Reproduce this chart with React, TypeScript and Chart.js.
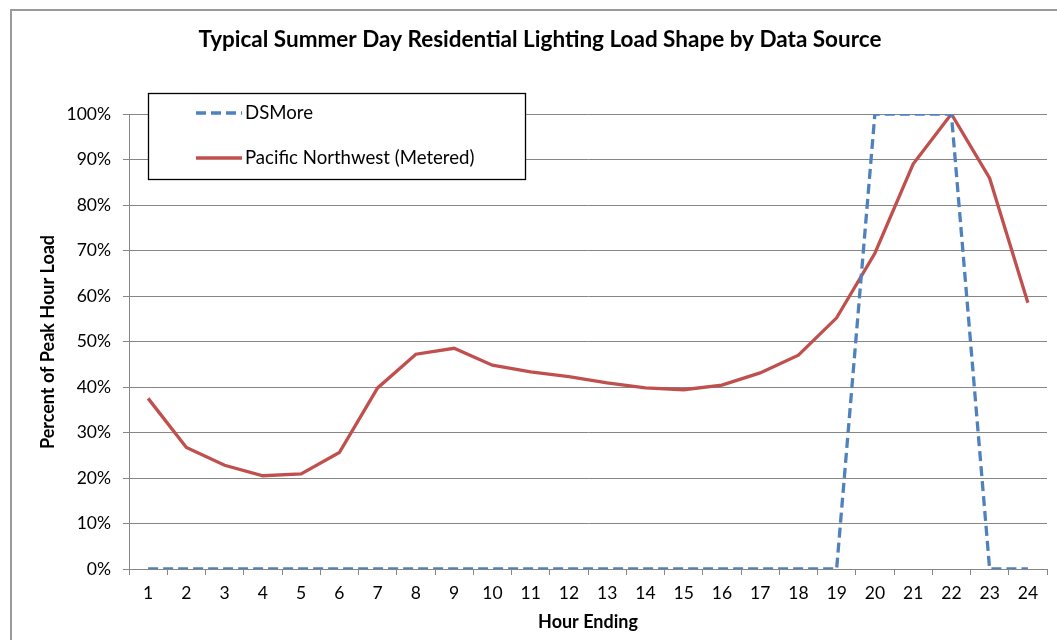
import React, { useEffect, useRef } from "react";
import { Chart, registerables } from "chart.js";

Chart.register(...registerables);

const TITLE = "Typical Summer Day Residential Lighting Load Shape by Data Source";
const X_TITLE = "Hour Ending";
const Y_TITLE = "Percent of Peak Hour Load";
const HOURS = ["1","2","3","4","5","6","7","8","9","10","11","12","13","14","15","16","17","18","19","20","21","22","23","24"];
const DSMORE = [0,0,0,0,0,0,0,0,0,0,0,0,0,0,0,0,0,0,0,100,100,100,0,0];
const PNW = [37.5,26.7,22.8,20.5,20.9,25.6,39.8,47.2,48.5,44.8,43.3,42.3,40.9,39.8,39.4,40.4,43.1,47.0,55.2,69.4,89.0,100,85.9,58.5];

const FONT = "Lato, 'Open Sans', sans-serif";

const decor = {
  id: "decor",
  beforeDraw(chart: any) {
    const ctx = chart.ctx;
    ctx.save();
    ctx.fillStyle = "#ffffff";
    ctx.fillRect(0, 0, chart.width, chart.height);
    ctx.fillStyle = "#9a9a9a";
    ctx.fillRect(10, 9, chart.width - 10, 2);
    ctx.fillRect(10, 9, 2, chart.height - 9);
    ctx.restore();
  },
  afterDraw(chart: any) {
    const ctx = chart.ctx;
    const area = chart.chartArea;
    ctx.save();
    ctx.fillStyle = "#000";
    ctx.textAlign = "center";
    ctx.textBaseline = "middle";
    ctx.font = `bold 22.5px ${FONT}`;
    ctx.fillText(TITLE, 540, 40);
    ctx.font = `bold 18px ${FONT}`;
    ctx.fillText(X_TITLE, (area.left + area.right) / 2, 622);
    ctx.translate(48, 342);
    ctx.rotate(-Math.PI / 2);
    ctx.fillText(Y_TITLE, 0, 0);
    ctx.restore();

    ctx.save();
    const bx = 148.5, by = 93.5, bw = 377, bh = 86;
    ctx.fillStyle = "#fff";
    ctx.fillRect(bx, by, bw, bh);
    ctx.strokeStyle = "#000";
    ctx.lineWidth = 1.3;
    ctx.strokeRect(bx, by, bw, bh);
    const rows = [113, 158];
    chart.data.datasets.forEach((ds: any, i: number) => {
      const y = rows[i];
      ctx.beginPath();
      ctx.strokeStyle = ds.borderColor;
      ctx.lineWidth = ds.borderWidth;
      ctx.setLineDash(ds.borderDash || []);
      ctx.moveTo(196, y);
      ctx.lineTo(242, y);
      ctx.stroke();
      ctx.setLineDash([]);
      ctx.fillStyle = "#000";
      ctx.font = `18.6px ${FONT}`;
      ctx.textAlign = "left";
      ctx.textBaseline = "middle";
      ctx.fillText(ds.label, 245, y);
    });
    ctx.restore();
  },
};

export default function App() {
  const ref = useRef<HTMLCanvasElement>(null);
  useEffect(() => {
    if (!ref.current) return;
    const chart = new Chart(ref.current, {
      type: "line",
      data: {
        labels: HOURS,
        datasets: [
          {
            label: "DSMore",
            data: DSMORE,
            borderColor: "#4F81BD",
            backgroundColor: "#4F81BD",
            borderWidth: 3.3,
            borderDash: [10, 5],
            pointRadius: 0,
            tension: 0,
            fill: false,
          },
          {
            label: "Pacific Northwest (Metered)",
            data: PNW,
            borderColor: "#C0504D",
            backgroundColor: "#C0504D",
            borderWidth: 3.3,
            pointRadius: 0,
            tension: 0,
            fill: false,
          },
        ],
      },
      options: {
        animation: false,
        responsive: false,
        maintainAspectRatio: false,
        layout: { padding: { top: 114, right: 10, left: 0, bottom: 0 } },
        plugins: { legend: { display: false }, title: { display: false }, tooltip: { enabled: false } },
        scales: {
          x: {
            type: "category",
            offset: true,
            grid: { offset: true, drawOnChartArea: false, drawTicks: true, tickLength: 6, color: "#868686", lineWidth: 1 },
            border: { color: "#868686", width: 1 },
            ticks: { color: "#000", font: { family: FONT, size: 17.5 }, padding: 8, maxRotation: 0, autoSkip: false },
            afterFit: (s: any) => { s.height = 71; },
          },
          y: {
            min: 0,
            max: 100,
            grid: { color: "#868686", lineWidth: 1, tickLength: 6, drawTicks: true },
            border: { color: "#868686", width: 1 },
            ticks: { stepSize: 10, color: "#000", font: { family: FONT, size: 17.5 }, padding: 12, callback: (v: any) => v + "%" },
            afterFit: (s: any) => { s.width = 129; },
          },
        },
      },
      plugins: [decor],
    });
    return () => chart.destroy();
  }, []);
  return (
    <div style={{ position: "absolute", left: 0, top: 0, width: 1057, height: 640 }}>
      <canvas ref={ref} width={1057} height={640} style={{ width: 1057, height: 640 }} />
    </div>
  );
}
